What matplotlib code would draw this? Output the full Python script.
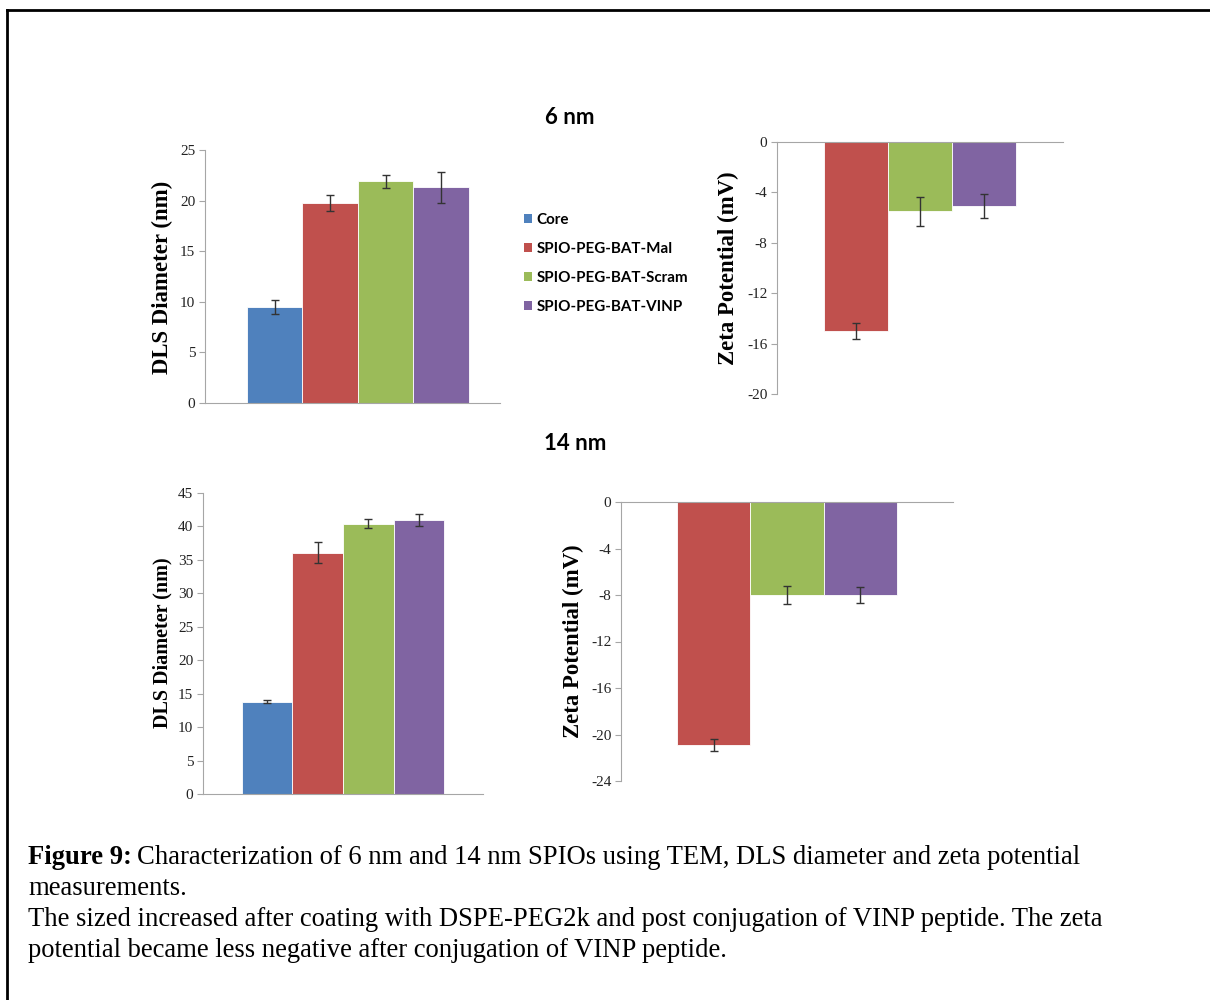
import matplotlib
matplotlib.use("Agg")
import matplotlib.pyplot as plt
from matplotlib.patches import Patch
from matplotlib.lines import Line2D

plt.rcParams["axes.unicode_minus"] = False

# data
groups = ["Core", "SPIO-PEG-BAT-Mal", "SPIO-PEG-BAT-Scram", "SPIO-PEG-BAT-VINP"]
colors = ["#4F81BD", "#C0504D", "#9BBB59", "#8064A2"]

dls_6 = [9.45, 19.8, 21.9, 21.3]
dls_6_err = [0.7, 0.8, 0.65, 1.5]
zeta_6 = [-15.0, -5.5, -5.05]
zeta_6_err = [0.6, 1.15, 0.95]

dls_14 = [13.8, 36.1, 40.4, 41.0]
dls_14_err = [0.25, 1.5, 0.7, 0.9]
zeta_14 = [-20.9, -8.0, -8.0]
zeta_14_err = [0.55, 0.8, 0.65]

W, H = 1210, 1000
fig = plt.figure(figsize=(W / 100, H / 100), dpi=100)

serif = "Liberation Serif"
sans = "Lato"


def add_ax(left, top, right, bottom):
    return fig.add_axes([left / W, 1 - bottom / H, (right - left) / W, (bottom - top) / H])


def style_ax(ax, ticks, zeta=False, tsize=11):
    for s in ax.spines.values():
        s.set_visible(False)
    ax.spines["left"].set_visible(True)
    ax.spines["left"].set_color("#a6a6a6")
    if zeta:
        ax.spines["top"].set_visible(True)
        ax.spines["top"].set_color("#a6a6a6")
    else:
        ax.spines["bottom"].set_visible(True)
        ax.spines["bottom"].set_color("#a6a6a6")
    ax.set_xticks([])
    ax.set_yticks(ticks)
    ax.tick_params(axis="y", length=4, color="#a6a6a6", labelsize=tsize, pad=3)
    for lab in ax.get_yticklabels():
        lab.set_fontfamily(serif)
        lab.set_color("#222222")


def bars(ax, vals, errs, cols, xlim):
    x = list(range(len(vals)))
    ax.bar(x, vals, width=1.0, color=cols, edgecolor="white", linewidth=0.6,
           yerr=errs, capsize=3, error_kw=dict(ecolor="#333333", elinewidth=1, capthick=1))
    ax.set_xlim(*xlim)


# 6 nm DLS
ax1 = add_ax(205, 150, 500, 403)
bars(ax1, dls_6, dls_6_err, colors, (-1.257, 4.06))
ax1.set_ylim(0, 25)
style_ax(ax1, [0, 5, 10, 15, 20, 25])

# 6 nm zeta
ax2 = add_ax(777, 142, 1063, 394)
bars(ax2, zeta_6, zeta_6_err, colors[1:], (-1.234, 3.234))
ax2.set_ylim(-20, 0)
style_ax(ax2, [0, -4, -8, -12, -16, -20], zeta=True)

# 14 nm DLS
ax3 = add_ax(203, 493, 483, 794)
bars(ax3, dls_14, dls_14_err, colors, (-1.27, 4.27))
ax3.set_ylim(0, 45)
style_ax(ax3, [0, 5, 10, 15, 20, 25, 30, 35, 40, 45])

# 14 nm zeta
ax4 = add_ax(621, 502, 953, 781)
bars(ax4, zeta_14, zeta_14_err, colors[1:], (-1.264, 3.264))
ax4.set_ylim(-24, 0)
style_ax(ax4, [0, -4, -8, -12, -16, -20, -24], zeta=True)


def ftext(x, y, s, **kw):
    return fig.text(x / W, 1 - y / H, s, **kw)


# axis labels
ftext(162, 277, "DLS Diameter (nm)", rotation=90, ha="center", va="center",
      family=serif, weight="bold", fontsize=16.4)
ftext(728, 268, "Zeta Potential (mV)", rotation=90, ha="center", va="center",
      family=serif, weight="bold", fontsize=16.4)
ftext(162, 643, "DLS Diameter (nm)", rotation=90, ha="center", va="center",
      family=serif, weight="bold", fontsize=14.5)
ftext(573, 641, "Zeta Potential (mV)", rotation=90, ha="center", va="center",
      family=serif, weight="bold", fontsize=16.4)

# panel titles
ftext(570, 118, "6 nm", ha="center", va="center", family=sans, weight="bold", fontsize=16)
ftext(575, 444, "14 nm", ha="center", va="center", family=sans, weight="bold", fontsize=16)

# legend
handles = [Patch(facecolor=c, edgecolor="none") for c in colors]
fig.legend(handles, groups, loc="upper left", bbox_to_anchor=(510 / W, 1 - 199 / H),
           frameon=False, handlelength=0.55, handleheight=0.55, handletextpad=0.3,
           labelspacing=1.0, prop=dict(family=sans, weight="bold", size=10.9))

# caption
fs = 19.2
bold = ftext(28, 864, "Figure 9:", ha="left", va="baseline", family=serif, weight="bold", fontsize=fs)
fig.canvas.draw()
bb = bold.get_window_extent(renderer=fig.canvas.get_renderer())
ftext(bb.x1 + 5, 864, "Characterization of 6 nm and 14 nm SPIOs using TEM, DLS diameter and zeta potential",
      ha="left", va="baseline", family=serif, fontsize=fs)
ftext(28, 895, "measurements.", ha="left", va="baseline", family=serif, fontsize=fs)
ftext(28, 926, "The sized increased after coating with DSPE-PEG2k and post conjugation of VINP peptide. The zeta",
      ha="left", va="baseline", family=serif, fontsize=fs)
ftext(28, 957, "potential became less negative after conjugation of VINP peptide.",
      ha="left", va="baseline", family=serif, fontsize=fs)

# frame lines
fig.add_artist(Line2D([7 / W, 1], [1 - 10 / H, 1 - 10 / H], transform=fig.transFigure, color="black", lw=2))
fig.add_artist(Line2D([7 / W, 7 / W], [0, 1 - 10 / H], transform=fig.transFigure, color="black", lw=2))

fig.savefig("out.png", dpi=100)
